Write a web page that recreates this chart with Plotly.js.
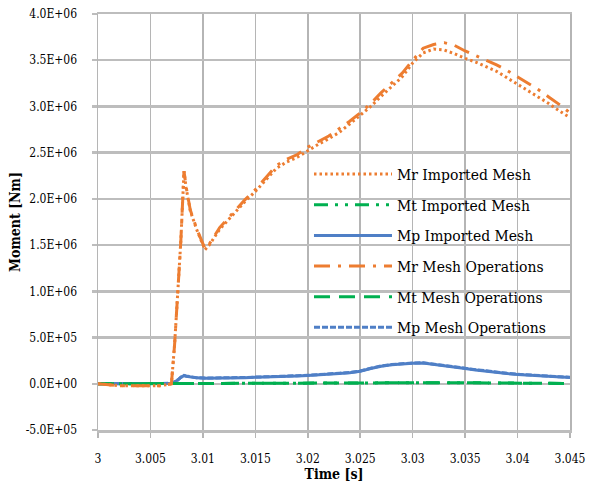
<!DOCTYPE html>
<html>
<head>
<meta charset="utf-8">
<script src="https://cdn.plot.ly/plotly-3.0.1.min.js"></script>
<style>html,body{margin:0;padding:0;background:#fff}#chart{width:589px;height:488px}</style>
</head>
<body>
<div id="chart"></div>
<script>
// Time [s]
var time = [3, 3.002, 3.004, 3.006, 3.007, 3.0073, 3.0076, 3.0079, 3.0082, 3.0084, 3.0088, 3.0094, 3.0102, 3.0106, 3.0116, 3.012, 3.013, 3.014, 3.015, 3.016, 3.017, 3.018, 3.019, 3.02, 3.021, 3.022, 3.023, 3.024, 3.025, 3.026, 3.027, 3.028, 3.029, 3.03, 3.031, 3.032, 3.033, 3.034, 3.035, 3.036, 3.037, 3.038, 3.039, 3.04, 3.041, 3.042, 3.043, 3.044, 3.045];

// Moments [Nm]
var mrImported = [0, -0.02e6, -0.02e6, -0.02e6, 0, 0.42e6, 0.98e6, 1.55e6, 2.30e6, 2.12e6, 1.87e6, 1.67e6, 1.45e6, 1.50e6, 1.67e6, 1.72e6, 1.85e6, 1.97e6, 2.08e6, 2.20e6, 2.33e6, 2.40e6, 2.45e6, 2.52e6, 2.59e6, 2.65e6, 2.72e6, 2.81e6, 2.90e6, 3.00e6, 3.11e6, 3.22e6, 3.32e6, 3.47e6, 3.58e6, 3.62e6, 3.61e6, 3.57e6, 3.52e6, 3.48e6, 3.43e6, 3.38e6, 3.31e6, 3.24e6, 3.17e6, 3.10e6, 3.03e6, 2.95e6, 2.88e6];
var mtImported = [0, 0, 0, 0, 0, 0.002e6, 0.004e6, 0.005e6, 0.006e6, 0.006e6, 0.006e6, 0.006e6, 0.006e6, 0.006e6, 0.006e6, 0.006e6, 0.006e6, 0.006e6, 0.006e6, 0.006e6, 0.006e6, 0.006e6, 0.007e6, 0.007e6, 0.007e6, 0.008e6, 0.008e6, 0.009e6, 0.010e6, 0.011e6, 0.012e6, 0.013e6, 0.014e6, 0.015e6, 0.015e6, 0.014e6, 0.013e6, 0.012e6, 0.011e6, 0.010e6, 0.009e6, 0.008e6, 0.007e6, 0.006e6, 0.005e6, 0.004e6, 0.004e6, 0.003e6, 0.003e6];
var mpImported = [0, 0, 0, 0, 0.005e6, 0.02e6, 0.04e6, 0.07e6, 0.088e6, 0.082e6, 0.072e6, 0.064e6, 0.060e6, 0.060e6, 0.061e6, 0.062e6, 0.064e6, 0.066e6, 0.070e6, 0.072e6, 0.075e6, 0.078e6, 0.085e6, 0.090e6, 0.100e6, 0.105e6, 0.112e6, 0.120e6, 0.135e6, 0.165e6, 0.190e6, 0.205e6, 0.215e6, 0.222e6, 0.225e6, 0.212e6, 0.195e6, 0.180e6, 0.165e6, 0.150e6, 0.135e6, 0.122e6, 0.110e6, 0.100e6, 0.092e6, 0.085e6, 0.078e6, 0.073e6, 0.068e6];
var mrMeshOps = [0, -0.02e6, -0.02e6, -0.02e6, 0, 0.42e6, 0.98e6, 1.55e6, 2.30e6, 2.13e6, 1.88e6, 1.68e6, 1.46e6, 1.51e6, 1.69e6, 1.74e6, 1.87e6, 1.99e6, 2.10e6, 2.23e6, 2.36e6, 2.43e6, 2.48e6, 2.56e6, 2.62e6, 2.68e6, 2.76e6, 2.84e6, 2.93e6, 3.03e6, 3.15e6, 3.26e6, 3.36e6, 3.50e6, 3.63e6, 3.67e6, 3.69e6, 3.66e6, 3.60e6, 3.55e6, 3.50e6, 3.45e6, 3.39e6, 3.32e6, 3.25e6, 3.18e6, 3.10e6, 3.02e6, 2.93e6];
var mtMeshOps = [0, 0, 0, 0, 0, 0.002e6, 0.004e6, 0.005e6, 0.006e6, 0.006e6, 0.006e6, 0.006e6, 0.006e6, 0.006e6, 0.006e6, 0.006e6, 0.006e6, 0.006e6, 0.006e6, 0.006e6, 0.006e6, 0.006e6, 0.007e6, 0.007e6, 0.007e6, 0.008e6, 0.008e6, 0.009e6, 0.010e6, 0.011e6, 0.012e6, 0.013e6, 0.014e6, 0.015e6, 0.016e6, 0.015e6, 0.013e6, 0.012e6, 0.011e6, 0.010e6, 0.009e6, 0.008e6, 0.007e6, 0.006e6, 0.005e6, 0.004e6, 0.004e6, 0.003e6, 0.003e6];
var mpMeshOps = [0, 0, 0, 0, 0.005e6, 0.02e6, 0.04e6, 0.07e6, 0.090e6, 0.084e6, 0.074e6, 0.066e6, 0.062e6, 0.062e6, 0.063e6, 0.064e6, 0.066e6, 0.068e6, 0.072e6, 0.074e6, 0.077e6, 0.080e6, 0.087e6, 0.092e6, 0.102e6, 0.107e6, 0.114e6, 0.122e6, 0.138e6, 0.168e6, 0.193e6, 0.208e6, 0.218e6, 0.225e6, 0.228e6, 0.215e6, 0.198e6, 0.183e6, 0.168e6, 0.153e6, 0.138e6, 0.125e6, 0.113e6, 0.103e6, 0.095e6, 0.088e6, 0.081e6, 0.076e6, 0.071e6];

var seriesNames = ["Mr Imported Mesh", "Mt Imported Mesh", "Mp Imported Mesh", "Mr Mesh Operations", "Mt Mesh Operations", "Mp Mesh Operations"];
var xTickVals = [3, 3.005, 3.01, 3.015, 3.02, 3.025, 3.03, 3.035, 3.04, 3.045];
var xTickText = ["3", "3.005", "3.01", "3.015", "3.02", "3.025", "3.03", "3.035", "3.04", "3.045"];
var yTickVals = [-0.5e6, 0, 0.5e6, 1e6, 1.5e6, 2e6, 2.5e6, 3e6, 3.5e6, 4e6];
var yTickText = ["-5.0E+05", "0.0E+00", "5.0E+05", "1.0E+06", "1.5E+06", "2.0E+06", "2.5E+06", "3.0E+06", "3.5E+06", "4.0E+06"];

var ORANGE = "#ED7D31", GREEN = "#00B050", BLUE = "#4F7FC6";
var seriesY = [mrImported, mtImported, mpImported, mrMeshOps, mtMeshOps, mpMeshOps];
var styles = [
  {color: ORANGE, dash: "2.5px,3px", width: 3},
  {color: GREEN, dash: "14px,7px,3px,7px,3px,7px", width: 3},
  {color: BLUE, dash: "solid", width: 3},
  {color: ORANGE, dash: "16px,8px,3px,8px", width: 3},
  {color: GREEN, dash: "16px,9px", width: 3},
  {color: BLUE, dash: "6px,2px", width: 3}
];
var order = [2, 5, 1, 4, 0, 3];
var traces = order.map(function (i) {
  return {
    x: time, y: seriesY[i], name: seriesNames[i], type: "scatter", mode: "lines",
    line: {color: styles[i].color, dash: styles[i].dash, width: styles[i].width},
    legendgroup: "g" + i, legendrank: i + 1
  };
});

var GRID = "#BDBDBD";
var FONT = "DejaVu Serif Condensed, DejaVu Serif, serif";
var layout = {
  width: 589, height: 488,
  margin: {l: 98, r: 19, t: 14, b: 58},
  paper_bgcolor: "#fff", plot_bgcolor: "#fff",
  font: {family: FONT, color: "#000", size: 11.5},
  showlegend: true,
  legend: {
    x: 0.447, y: 0.655, xanchor: "left", yanchor: "top",
    bgcolor: "rgba(0,0,0,0)", borderwidth: 0,
    font: {family: FONT, size: 15.5, color: "#000"},
    traceorder: "grouped", tracegroupgap: 7.5, itemwidth: 78
  },
  xaxis: {
    range: [3, 3.045], tickmode: "array", tickvals: xTickVals, ticktext: xTickText,
    showgrid: true, gridcolor: "#B5B5B5", gridwidth: 1.5,
    showline: true, linecolor: GRID, linewidth: 2.5, mirror: true,
    ticks: "outside", ticklen: 5, tickcolor: "#B5B5B5", tickwidth: 1.5,
    zeroline: false, ticklabelstandoff: 11,
    tickfont: {family: FONT, size: 12, color: "#000"},
    title: {text: "<b>Time [s]</b>", font: {family: FONT, size: 14, color: "#000"}, standoff: 5}
  },
  yaxis: {
    range: [-0.5e6, 4e6], tickmode: "array", tickvals: yTickVals, ticktext: yTickText,
    showgrid: true, gridcolor: GRID, gridwidth: 2.5,
    showline: true, linecolor: "#B5B5B5", linewidth: 1.5, mirror: true,
    ticks: "outside", ticklen: 5, tickcolor: GRID, tickwidth: 2.5,
    zeroline: false, ticklabelstandoff: 12,
    tickfont: {family: FONT, size: 12, color: "#000"},
    title: {text: "<b>Moment [Nm]</b>", font: {family: FONT, size: 14, color: "#000"}, standoff: 1}
  }
};
Plotly.newPlot("chart", traces, layout, {displayModeBar: false, staticPlot: true});
</script>
</body>
</html>
